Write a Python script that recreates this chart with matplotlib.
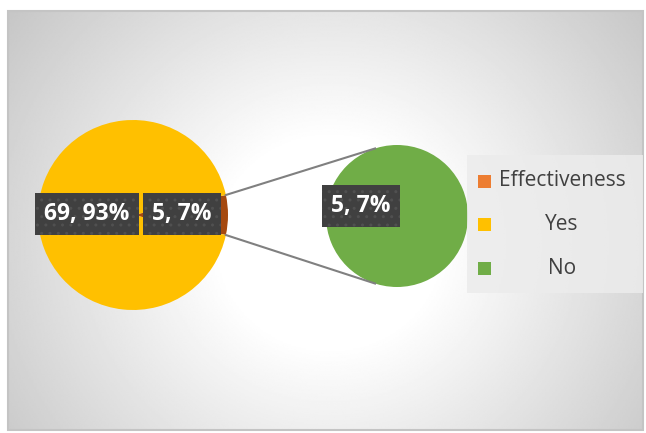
import numpy as np
import matplotlib.pyplot as plt
from matplotlib.patches import Rectangle

# Survey answers on effectiveness
categories = ['Yes', 'No']
counts = [69, 5]
percents = [93, 7]
legend_labels = ['Effectiveness', 'Yes', 'No']

W, H = 646, 433
fig = plt.figure(figsize=(W / 100, H / 100), dpi=100)
fig.patch.set_facecolor('white')

# radial grey-to-white backdrop of the chart area
bg = fig.add_axes([0, 0, 1, 1])
bg.set_xlim(0, W)
bg.set_ylim(0, H)
bg.axis('off')
x0, x1, y0, y1 = 8, 643, 3, 422
xx, yy = np.meshgrid(np.linspace(x0, x1, 400), np.linspace(y0, y1, 300))
d = np.hypot(xx - 330, (yy - 190) * 1.05)
shade = 1 - 0.22 * np.clip((d - 110) / 290, 0, 1)
bg.imshow(shade, cmap='gray', vmin=0, vmax=1, extent=(x0, x1, y0, y1),
          origin='lower', aspect='auto', zorder=0)
bg.add_patch(Rectangle((x0, y0), x1 - x0, y1 - y0, fill=False,
                       edgecolor='#c4c4c4', linewidth=1.5, zorder=1))

ax = fig.add_axes([0, 0, 1, 1])
ax.patch.set_alpha(0)
ax.axis('off')

yes_color = '#FFC000'
no_color = '#A5490F'
sub_color = '#70AD47'

# main pie: the "No" share is pulled out into the second pie
c_main, r_main = (133, 218), 95
half = counts[1] / sum(counts) * 180
ax.pie([counts[1], counts[0]], colors=[no_color, yes_color], startangle=-half,
       center=c_main, radius=r_main, frame=True,
       wedgeprops=dict(linewidth=0))

# secondary pie for the "No" answers
c_sub, r_sub = (397, 217), 71
ax.pie([counts[1]], colors=[sub_color], center=c_sub, radius=r_sub, frame=True,
       wedgeprops=dict(linewidth=0))

ax.set_xlim(0, W)
ax.set_ylim(0, H)
ax.set_aspect('equal')
ax.axis('off')

# connector lines from the slice edges to the secondary pie
for sgn in (1, -1):
    a = np.radians(sgn * half)
    p0 = (c_main[0] + r_main * np.cos(a), c_main[1] + r_main * np.sin(a))
    b = np.radians(sgn * 108)
    p1 = (c_sub[0] + r_sub * np.cos(b), c_sub[1] + r_sub * np.sin(b))
    ax.plot([p0[0], p1[0]], [p0[1], p1[1]], color='#808080', linewidth=1.5, zorder=3)

box = dict(boxstyle='square,pad=0.4', facecolor='#404040', edgecolor='#505050',
           hatch='..', linewidth=0)
lab = dict(color='white', fontsize=16.5, fontweight='bold', family='Open Sans',
           ha='center', va='center', bbox=box, zorder=5)
ax.text(87, 219, f'{counts[0]}, {percents[0]}%', **lab)
ax.text(182, 219, f'{counts[1]}, {percents[1]}%', **lab)
ax.text(361, 227, f'{counts[1]}, {percents[1]}%', **lab)

# legend
ax.add_patch(Rectangle((467, 140), 176, 138, facecolor='#ececec', edgecolor='none',
                       alpha=0.85, zorder=4))
leg_colors = ['#ED7D31', yes_color, sub_color]
for i, (name, col) in enumerate(zip(legend_labels, leg_colors)):
    y = 252 - i * 43.5
    ax.add_patch(Rectangle((478, y - 6.5), 13, 13, facecolor=col, edgecolor='none', zorder=5))
    ax.text(562, y, name, fontsize=15, family='Open Sans', color='#404040',
            ha='center', va='center', zorder=5)

fig.savefig('out.png', dpi=100)
